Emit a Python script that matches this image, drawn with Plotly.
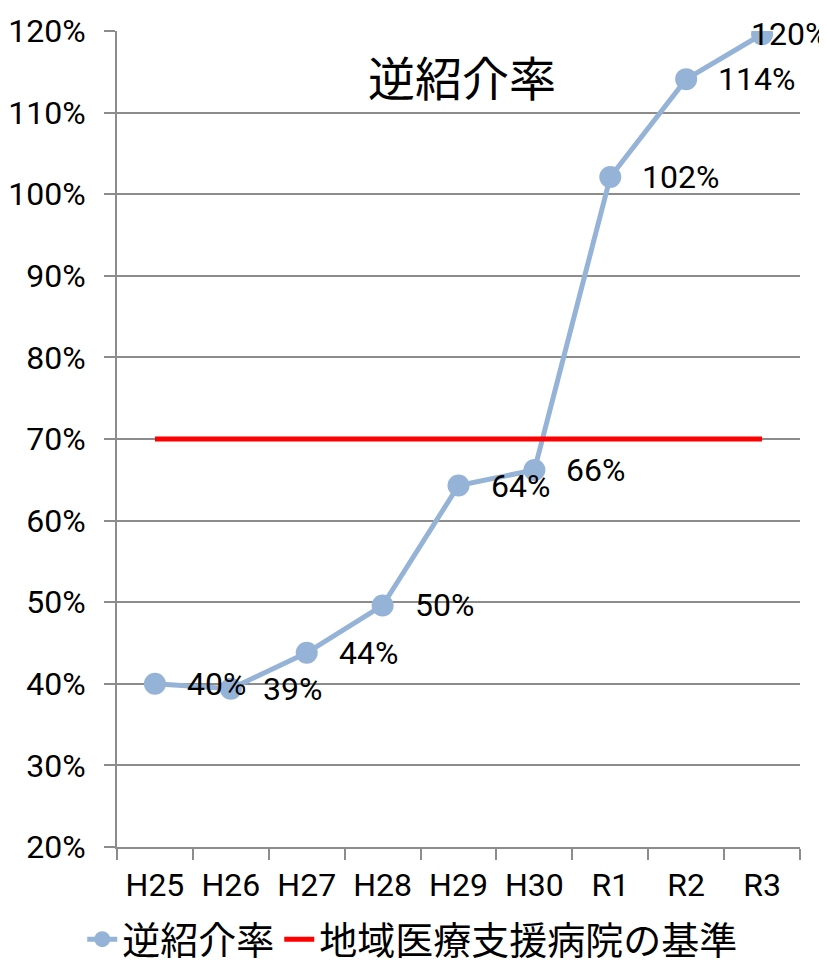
import plotly.graph_objects as go

categories = ["H25", "H26", "H27", "H28", "H29", "H30", "R1", "R2", "R3"]
referral_rate = [0.400, 0.394, 0.438, 0.496, 0.643, 0.662, 1.021, 1.141, 1.196]
rate_labels = ["40%", "39%", "44%", "50%", "64%", "66%", "102%", "114%", "120%"]
standard = [0.70] * len(categories)
y_ticks = [0.2, 0.3, 0.4, 0.5, 0.6, 0.7, 0.8, 0.9, 1.0, 1.1, 1.2]
y_tick_labels = ["20%", "30%", "40%", "50%", "60%", "70%", "80%", "90%", "100%", "110%", "120%"]
label_shift = [30, 30, 30, 30, 30, 30, 30, 30, -13]

NARROW = "Roboto, Noto Sans CJK JP, sans-serif"
CJK = "Noto Sans CJK JP, sans-serif"
GRID = "#8c8c8c"

fig = go.Figure()
fig.add_trace(go.Scatter(
    x=categories, y=referral_rate, name="逆紹介率", mode="lines+markers",
    line=dict(color="#95B3D7", width=5), marker=dict(color="#95B3D7", size=22),
))
fig.add_trace(go.Scatter(
    x=categories, y=standard, name="地域医療支援病院の基準", mode="lines",
    line=dict(color="#FF0000", width=5),
))

for c, v, t, s in zip(categories, referral_rate, rate_labels, label_shift):
    fig.add_annotation(x=c, y=v, text=t, showarrow=False, xanchor="left", yanchor="middle",
                       xshift=s, font=dict(family=NARROW, size=32, color="black"))

fig.add_annotation(text="逆紹介率", xref="x domain", yref="y domain", x=0.505, y=0.945,
                   showarrow=False, xanchor="center", yanchor="middle",
                   font=dict(family=CJK, size=47, color="black"))

fig.update_layout(
    width=819, height=963,
    margin=dict(l=109, r=27, t=23, b=0, pad=0),
    paper_bgcolor="white", plot_bgcolor="white",
    showlegend=True,
    legend=dict(orientation="h", x=0.433, xanchor="center", y=0.033, yanchor="middle",
                font=dict(family=CJK, size=38, color="black"),
                traceorder="normal", bgcolor="rgba(0,0,0,0)"),
    xaxis=dict(type="category", tickson="boundaries", ticks="outside", ticklen=11,
               tickcolor=GRID, tickwidth=2, showline=True, linecolor=GRID, linewidth=2,
               showgrid=False, tickfont=dict(family=NARROW, size=32, color="black"),
               tickangle=0, automargin=False, ticklabelstandoff=9, range=[-0.5, 8.5]),
    yaxis=dict(range=[0.2, 1.2], tickvals=y_ticks, ticktext=y_tick_labels,
               domain=[0.1319, 1.0],
               ticks="outside", ticklen=11, tickcolor=GRID, tickwidth=2,
               showline=True, linecolor=GRID, linewidth=2, automargin=False,
               ticklabelstandoff=12,
               showgrid=True, gridcolor=GRID, gridwidth=2, zeroline=False,
               tickfont=dict(family=NARROW, size=32, color="black")),
)

fig.write_html("out.html")
